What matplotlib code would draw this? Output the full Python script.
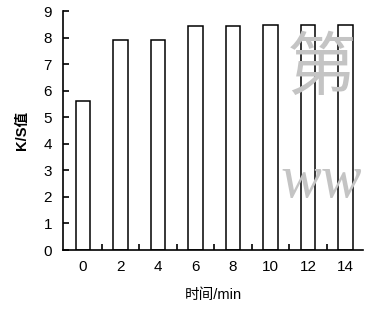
import matplotlib
matplotlib.use('Agg')
import matplotlib.pyplot as plt

plt.rcParams['font.family'] = ['Liberation Sans', 'Noto Sans CJK SC', 'DejaVu Sans']

# данные: время (мин) и значения K/S
time_min = [0, 2, 4, 6, 8, 10, 12, 14]
ks_value = [5.62, 7.9, 7.9, 8.43, 8.45, 8.47, 8.47, 8.47]
x_ticklabels = ['0', '2', '4', '6', '8', '10', '12', '14']
minor_ticks = [1, 3, 5, 7, 9, 11, 13]

fig = plt.figure(figsize=(3.65, 3.11), dpi=100)
ax = fig.add_axes([0.1726, 0.196, 0.8219, 0.7686])

ax.bar(time_min, ks_value, width=0.78, color='white', edgecolor='black', linewidth=1.1)

ax.set_xlim(-1.07, 14.93)
ax.set_ylim(0, 9)
ax.set_yticks(range(0, 10))
ax.set_xticks(time_min)
ax.set_xticklabels(x_ticklabels)
ax.set_xticks(minor_ticks, minor=True)

ax.spines['top'].set_visible(False)
ax.spines['right'].set_visible(False)
ax.spines['left'].set_linewidth(1.2)
ax.spines['bottom'].set_linewidth(1.2)

ax.tick_params(axis='y', direction='in', length=4, width=1.2, labelsize=11, pad=8)
ax.tick_params(axis='x', which='major', length=0, labelsize=11, pad=7)
ax.tick_params(axis='x', which='minor', direction='in', length=4, width=1.2)

ax.set_xlabel('时间/min', fontsize=10.5, labelpad=10)
ax.set_ylabel('K/S值', fontsize=10.5, labelpad=10, fontweight='bold')

# водяной знак
fig.text(322 / 365, 1 - 69 / 311, '第', fontsize=50, color='#c4c4c4',
         family=['Noto Sans CJK SC'], ha='center', va='center')
fig.text(362 / 365, 1 - 197 / 311, 'ww', fontsize=44, color='#c4c4c4',
         family=['Liberation Serif'], style='italic', ha='right', va='baseline')

fig.savefig('out.png', dpi=100)
